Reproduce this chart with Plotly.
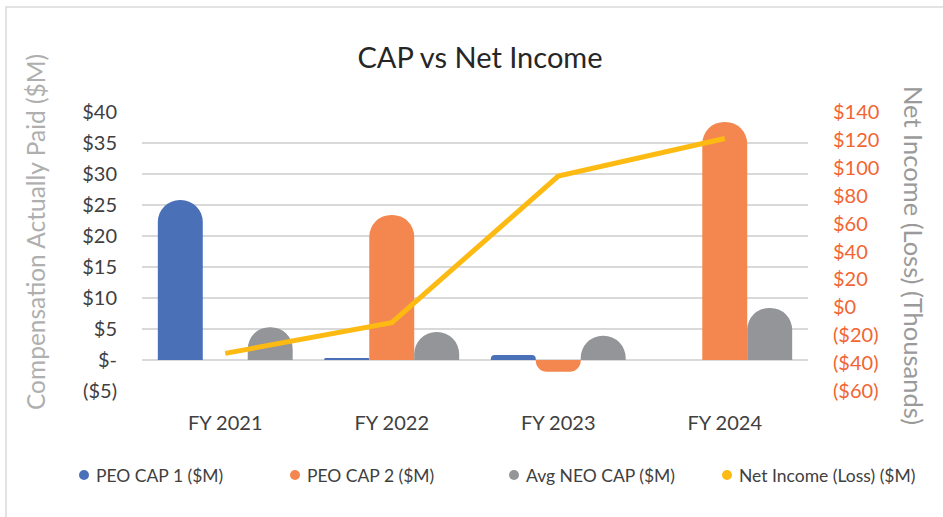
import plotly.graph_objects as go

# chart data
years = ["FY 2021", "FY 2022", "FY 2023", "FY 2024"]
peo_cap_1 = [25.8, 0.3, 0.8, 0]
peo_cap_2 = [0, 23.4, -1.9, 38.4]
avg_neo_cap = [5.3, 4.5, 3.9, 8.4]
net_income = [-33, -11, 94, 121]

left_tickvals = [-5, 0, 5, 10, 15, 20, 25, 30, 35, 40]
left_ticktext = ["($5)", "$-", "$5", "$10", "$15", "$20", "$25", "$30", "$35", "$40"]
right_tickvals = [-60, -40, -20, 0, 20, 40, 60, 80, 100, 120, 140]
right_ticktext = ["($60)", "($40)", "($20)", "$0", "$20", "$40", "$60",
                  "$80", "$100", "$120", "$140"]

legend_names = ["PEO CAP 1 ($M)", "PEO CAP 2 ($M)", "Avg NEO CAP ($M)",
                "Net Income (Loss) ($M)"]

BLUE = "#4A71B8"
ORANGE = "#F4874F"
GRAY = "#939598"
GOLD = "#FDBA12"
TICK_RED = "#F26532"
FONT = "Lato, 'Open Sans', sans-serif"

# plot area in pixels, used to place the paper-referenced extras
PL, PR, PT, PB = 142, 808, 112, 391


def px_x(px):
    return (px - PL) / (PR - PL)


def px_y(py):
    return 1 - (py - PT) / (PB - PT)


fig = go.Figure()

for name, values, color in [
    (legend_names[0], peo_cap_1, BLUE),
    (legend_names[1], peo_cap_2, ORANGE),
    (legend_names[2], avg_neo_cap, GRAY),
]:
    fig.add_trace(
        go.Bar(
            x=years,
            y=values,
            name=name,
            marker=dict(color=color, cornerradius="50%", line=dict(width=0)),
            showlegend=False,
        )
    )

fig.add_trace(
    go.Scatter(
        x=years,
        y=net_income,
        yaxis="y2",
        mode="lines",
        line=dict(color=GOLD, width=5),
        name=legend_names[3],
        showlegend=False,
    )
)

# hand-placed legend: round dots + labels
legend_colors = [BLUE, ORANGE, GRAY, GOLD]
legend_dot_x = [84, 295, 514, 727]
legend_y = 475

shapes = [
    dict(
        type="rect",
        xref="paper",
        yref="paper",
        x0=px_x(6),
        x1=px_x(960),
        y0=px_y(540),
        y1=px_y(7),
        line=dict(color="#DADADA", width=1.5),
        layer="below",
    )
]
annotations = [
    dict(
        text="Compensation Actually Paid ($M)",
        x=px_x(35),
        y=px_y(232),
        xref="paper",
        yref="paper",
        xanchor="center",
        yanchor="middle",
        textangle=-90,
        showarrow=False,
        font=dict(size=24.5, color="#AFAFAF"),
    ),
    dict(
        text="Net Income (Loss) (Thousands)",
        x=px_x(914),
        y=px_y(255),
        xref="paper",
        yref="paper",
        xanchor="center",
        yanchor="middle",
        textangle=90,
        showarrow=False,
        font=dict(size=25.5, color="#9A9A9A"),
    ),
]

for name, color, dx in zip(legend_names, legend_colors, legend_dot_x):
    shapes.append(
        dict(
            type="circle",
            xref="paper",
            yref="paper",
            xsizemode="pixel",
            ysizemode="pixel",
            xanchor=px_x(dx),
            yanchor=px_y(legend_y),
            x0=-5,
            x1=5,
            y0=-5,
            y1=5,
            fillcolor=color,
            line=dict(width=0),
        )
    )
    annotations.append(
        dict(
            text=name,
            x=px_x(dx + 10),
            y=px_y(legend_y),
            xref="paper",
            yref="paper",
            xanchor="left",
            yanchor="middle",
            showarrow=False,
            font=dict(size=17.5, color="#404040"),
        )
    )

fig.update_layout(
    width=943,
    height=517,
    margin=dict(l=PL, r=943 - PR, t=PT, b=517 - PB),
    paper_bgcolor="white",
    plot_bgcolor="white",
    font=dict(family=FONT, color="#404040"),
    barmode="group",
    bargap=0.19,
    bargroupgap=0,
    showlegend=False,
    title=dict(
        text="CAP vs Net Income",
        x=480 / 943,
        xanchor="center",
        xref="container",
        y=1 - 58 / 517,
        yanchor="middle",
        yref="container",
        font=dict(size=29, color="#262626"),
    ),
    xaxis=dict(
        showgrid=False,
        showline=False,
        ticks="",
        tickfont=dict(size=20, color="#404040"),
        ticklabelstandoff=18,
    ),
    yaxis=dict(
        range=[-5, 40],
        tickvals=left_tickvals,
        ticktext=left_ticktext,
        tickfont=dict(size=20, color="#404040"),
        gridcolor="#D9D9D9",
        gridwidth=1.5,
        zeroline=False,
        showline=False,
        ticks="",
        ticklabelstandoff=24,
    ),
    yaxis2=dict(
        range=[-60, 140],
        overlaying="y",
        side="right",
        tickvals=right_tickvals,
        ticktext=right_ticktext,
        tickfont=dict(size=20, color=TICK_RED),
        showgrid=False,
        zeroline=False,
        showline=False,
        ticks="",
        ticklabelstandoff=24,
    ),
    shapes=shapes,
    annotations=annotations,
)

fig.write_html(
    "out.html",
    config={"displayModeBar": False},
    post_script="document.body.style.margin='0';",
)
